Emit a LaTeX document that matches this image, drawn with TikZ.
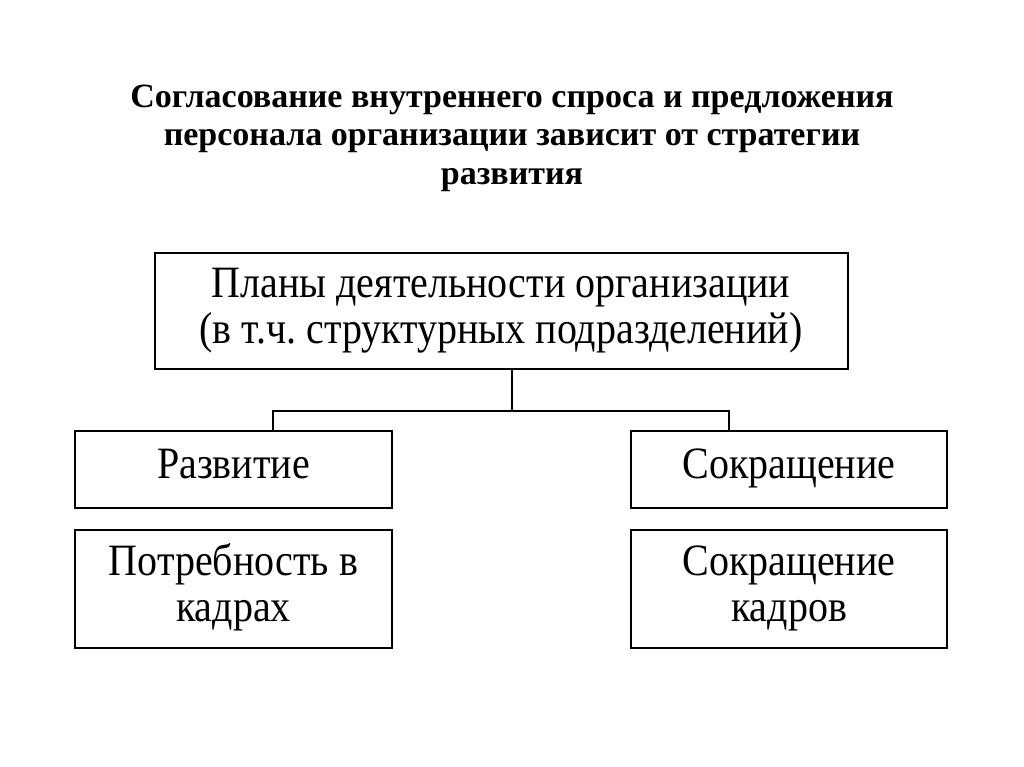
\documentclass[tikz,border=0pt]{standalone}
\usepackage{fontspec}
\usepackage{graphicx}
\setmainfont{Liberation Serif}
\frenchspacing
\newcommand{\tl}[1]{\scalebox{1}[1.12]{\strut #1}}
\begin{document}
\begin{tikzpicture}[x=1pt,y=-1pt,
  box/.style={draw,line width=2pt,inner sep=0pt,align=center,font=\fontsize{40}{41}\selectfont},
  conn/.style={line width=2pt}]
\useasboundingbox (0,0) rectangle (1024,767);
\node[font=\bfseries\fontsize{34}{38.5}\selectfont,align=center] (title) at (512,138)
  {Согласование внутреннего спроса и предложения\\персонала организации зависит от стратегии\\развития};
\node[box,minimum width=693pt,minimum height=116pt] (plans) at (501,311)
  {\tl{Планы деятельности организации}\\[-1pt]\tl{(в т.ч. структурных подразделений)}};
\node[box,minimum width=317pt,minimum height=77pt] (dev) at (233.5,469.5) {\tl{Развитие}};
\node[box,minimum width=316pt,minimum height=77pt] (cut) at (789,469.5) {\tl{Сокращение}};
\node[box,minimum width=317pt,minimum height=118pt] (need) at (233.5,589) {\tl{Потребность в}\\[-1pt]\tl{кадрах}};
\node[box,minimum width=316pt,minimum height=118pt] (cutk) at (789,589) {\tl{Сокращение}\\[-1pt]\tl{кадров}};
\coordinate (j) at (512,410.5);
\draw[conn] (plans.south -| j) -- (j);
\draw[conn] (dev.north -| 273,0) |- (j) -| (cut.north -| 729,0);
\end{tikzpicture}
\end{document}
